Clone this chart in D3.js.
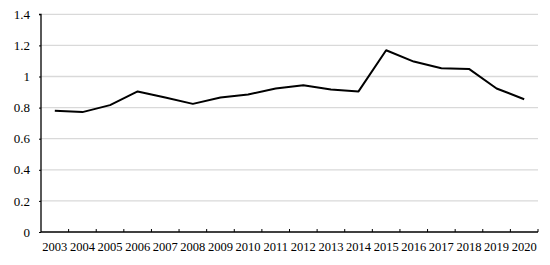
<!DOCTYPE html>
<html><head><meta charset="utf-8">
<script src="https://cdn.jsdelivr.net/npm/d3@7"></script>
<style>body{margin:0;background:#fff}svg{display:block}</style>
</head><body><svg id="c" width="550" height="265"></svg>
<script>
const years = ["2003","2004","2005","2006","2007","2008","2009","2010","2011","2012","2013","2014","2015","2016","2017","2018","2019","2020"];
const values = [0.78,0.771,0.816,0.904,0.865,0.824,0.865,0.884,0.923,0.944,0.916,0.904,1.169,1.096,1.053,1.049,0.923,0.854];
const yTicks = [0,0.2,0.4,0.6,0.8,1,1.2,1.4];

(function(){
const svg = d3.select("#c");
const mL = 41, mR = 538, mT = 14.3, mB = 232;
const x = d3.scaleBand().domain(years).range([mL, mR]);
const y = d3.scaleLinear().domain([0, 1.4]).range([mB, mT]);
const FONT = "Liberation Serif";

// gridlines
svg.append("g").selectAll("line").data(yTicks.filter(d => d > 0)).join("line")
  .attr("x1", mL).attr("x2", mR)
  .attr("y1", d => y(d)).attr("y2", d => y(d))
  .attr("stroke", "#d9d9d9").attr("stroke-width", 1.3);

// y axis
const ya = svg.append("g").attr("transform", `translate(${mL},0)`)
  .call(d3.axisLeft(y).tickValues(yTicks).tickSize(2).tickPadding(9).tickFormat(d => d3.format("~g")(d)));
ya.attr("font-family", FONT).attr("font-size", 13);
ya.select(".domain").attr("stroke", "#000").attr("stroke-width", 1.3).attr("d", `M-2,${mT}H0V${mB}`);
ya.selectAll(".tick line").attr("stroke", "#000");
ya.selectAll("text").style("font-family", FONT).style("font-size", "13px").attr("fill", "#000");

// x axis
const xa = svg.append("g").attr("transform", `translate(0,${mB})`)
  .call(d3.axisBottom(x).tickSize(0).tickPadding(10));
xa.attr("font-family", FONT).attr("font-size", 12.5);
xa.select(".domain").attr("stroke", "#000").attr("stroke-width", 1.3).attr("d", `M${mL},0H${mR}`);
xa.selectAll("text").style("font-family", FONT).style("font-size", "12.5px").attr("fill", "#000");
// boundary ticks (inside)
const bounds = years.map(d => x(d)).concat([x(years[years.length-1]) + x.bandwidth()]);
svg.append("g").selectAll("line").data(bounds.slice(1)).join("line")
  .attr("x1", d => d).attr("x2", d => d)
  .attr("y1", mB).attr("y2", mB - 3)
  .attr("stroke", "#000").attr("stroke-width", 1);

// line
const line = d3.line().x((d, i) => x(years[i]) + x.bandwidth() / 2).y(d => y(d));
svg.append("path").datum(values).attr("d", line)
  .attr("fill", "none").attr("stroke", "#000").attr("stroke-width", 2).attr("stroke-linejoin", "round");
})();
</script></body></html>
